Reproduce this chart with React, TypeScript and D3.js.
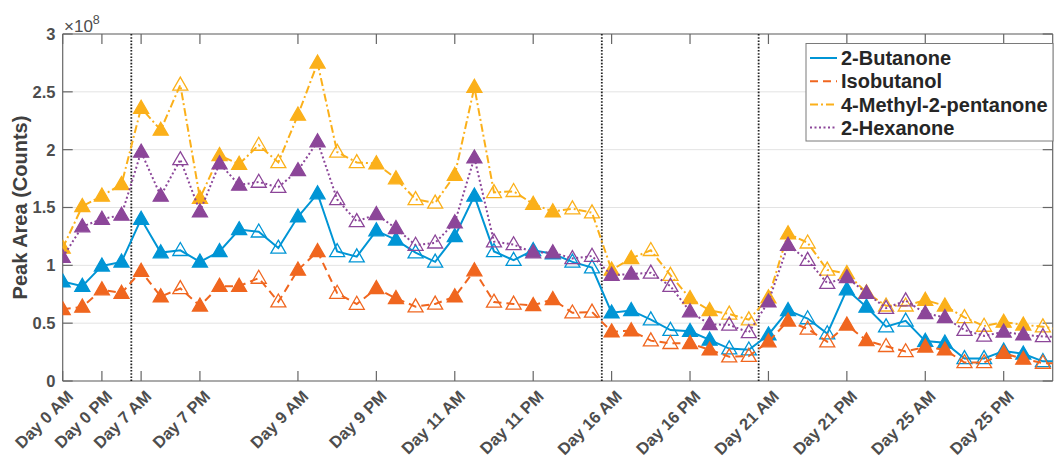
import React from "react";
import * as d3 from "d3";

const xTickIdx = [0, 2, 4, 7, 12, 16, 20, 24, 28, 32, 36, 40, 44, 48];
const xTickLabels = [
  "Day 0 AM", "Day 0 PM", "Day 7 AM", "Day 7 PM", "Day 9 AM", "Day 9 PM",
  "Day 11 AM", "Day 11 PM", "Day 16 AM", "Day 16 PM", "Day 21 AM", "Day 21 PM",
  "Day 25 AM", "Day 25 PM",
];
const yTicks = [0, 0.5, 1, 1.5, 2, 2.5, 3];
const dividers = [3.5, 27.5, 35.5];

// values in units of 1e8
const butanone = [
  0.86, 0.82, 0.995, 1.03, 1.40, 1.11, 1.13, 1.03, 1.12, 1.31,
  1.29, 1.15, 1.42, 1.62, 1.12, 1.075, 1.30, 1.22, 1.11, 1.03,
  1.25, 1.60, 1.12, 1.045, 1.13, 1.10, 1.03, 0.98, 0.59, 0.61,
  0.53, 0.44, 0.43, 0.355, 0.28, 0.27, 0.40, 0.61, 0.54, 0.41,
  0.79, 0.64, 0.47, 0.52, 0.345, 0.33, 0.195, 0.195, 0.26, 0.235,
  0.17, 0.17,
];
const isobutanol = [
  0.62, 0.64, 0.79, 0.76, 0.95, 0.73, 0.80, 0.65, 0.82, 0.82,
  0.89, 0.685, 0.96, 1.12, 0.76, 0.665, 0.80, 0.715, 0.643, 0.666,
  0.729, 0.954, 0.683, 0.666, 0.654, 0.706, 0.59, 0.597, 0.426, 0.435,
  0.349, 0.326, 0.325, 0.27, 0.21, 0.215, 0.34, 0.52, 0.45, 0.34,
  0.485, 0.35, 0.30, 0.255, 0.295, 0.27, 0.16, 0.16, 0.24, 0.19,
  0.155, 0.15,
];
const methylPentanone = [
  1.15, 1.51, 1.60, 1.70, 2.36, 2.17, 2.56, 1.58, 1.95, 1.875,
  2.04, 1.89, 2.30, 2.75, 1.98, 1.89, 1.88, 1.75, 1.57, 1.54,
  1.78, 2.54, 1.63, 1.64, 1.53, 1.465, 1.49, 1.455, 0.96, 1.06,
  1.13, 0.915, 0.715, 0.61, 0.58, 0.53, 0.72, 1.275, 1.195, 0.96,
  0.93, 0.765, 0.65, 0.65, 0.70, 0.65, 0.55, 0.475, 0.51, 0.485,
  0.47, 0.44,
];
const hexanone = [
  1.07, 1.335, 1.40, 1.435, 1.98, 1.60, 1.915, 1.465, 1.88, 1.695,
  1.72, 1.675, 1.82, 2.07, 1.57, 1.38, 1.44, 1.32, 1.175, 1.195,
  1.37, 1.93, 1.205, 1.18, 1.11, 1.11, 1.06, 1.08, 0.915, 0.925,
  0.935, 0.82, 0.60, 0.49, 0.485, 0.42, 0.685, 1.175, 1.045, 0.845,
  0.895, 0.76, 0.63, 0.695, 0.585, 0.55, 0.44, 0.39, 0.425, 0.40,
  0.385, 0.38,
];
// 1 = filled marker, 0 = open marker
const filled = [
  1, 1, 1, 1, 1, 1, 0, 1, 1, 1, 0, 0, 1, 1, 0, 0, 1, 1, 0, 0,
  1, 1, 0, 0, 1, 1, 0, 0, 1, 1, 0, 0, 1, 1, 0, 0, 1, 1, 0, 0,
  1, 1, 0, 0, 1, 1, 0, 0, 1, 1, 0, 0,
];

const seriesNames = ["2-Butanone", "Isobutanol", "4-Methyl-2-pentanone", "2-Hexanone"];
const seriesValues = [butanone, isobutanol, methylPentanone, hexanone];
const seriesColors = ["#0095d5", "#f0661f", "#fbb01a", "#8c4699"];
const seriesDash = ["", "8,5", "8,3,2,3", "2,2.5"];

const W = 1056, H = 458;
const L = 62.7, R = 1052.7, T = 34, B = 381;
const FONT = "'Liberation Sans', Arial, Helvetica, sans-serif";

export default function App() {
  const x = d3.scaleLinear().domain([0, 50.5]).range([L, R]);
  const y = d3.scaleLinear().domain([0, 3]).range([B, T]);
  const line = d3.line<number>().x((_, i) => x(i)).y((d) => y(d));
  const tri = (cx: number, cy: number) =>
    `M${cx},${cy - 7.8}L${cx + 7.5},${cy + 5.2}L${cx - 7.5},${cy + 5.2}Z`;

  return (
    <svg width={W} height={H} style={{ position: "absolute", left: 0, top: 0, background: "#fff" }}>
      <defs>
        <clipPath id="plotclip">
          <rect x={L} y={T} width={R - L} height={B - T} />
        </clipPath>
      </defs>
      {/* grid */}
      {yTicks.map((t) => (
        <line key={"g" + t} x1={L} x2={R} y1={y(t)} y2={y(t)} stroke="#e3e3e3" strokeWidth={1} />
      ))}
      {/* axes box */}
      <line x1={L} x2={R} y1={B} y2={B} stroke="#666" strokeWidth={1.2} />
      <line x1={L} x2={R} y1={T} y2={T} stroke="#666" strokeWidth={1.2} />
      <line x1={L} x2={L} y1={T} y2={B} stroke="#666" strokeWidth={1.2} />
      <line x1={R} x2={R} y1={T} y2={B} stroke="#666" strokeWidth={1.2} />
      {/* ticks */}
      {xTickIdx.map((i) => (
        <g key={"xt" + i}>
          <line x1={x(i)} x2={x(i)} y1={B} y2={B - 10} stroke="#666" strokeWidth={1.2} />
          <line x1={x(i)} x2={x(i)} y1={T} y2={T + 10} stroke="#666" strokeWidth={1.2} />
        </g>
      ))}
      {yTicks.map((t) => (
        <g key={"yt" + t}>
          <line x1={L} x2={L + 10} y1={y(t)} y2={y(t)} stroke="#666" strokeWidth={1.2} />
          <line x1={R} x2={R - 10} y1={y(t)} y2={y(t)} stroke="#666" strokeWidth={1.2} />
          <text x={55.5} y={y(t)} dy="0.36em" textAnchor="end" fontFamily={FONT} fontWeight="bold"
            fontSize={16.5} fill="#4d4d4d">{String(t)}</text>
        </g>
      ))}
      {xTickLabels.map((lab, k) => (
        <text key={"xl" + k} transform={`translate(${x(xTickIdx[k]) + 3},${389}) rotate(-45)`} dy="0.72em"
          textAnchor="end" fontFamily={FONT} fontWeight="bold" fontSize={16.5} fill="#4d4d4d">
          {lab}
        </text>
      ))}
      {/* exponent */}
      <text x={64} y={32} fontFamily={FONT} fontSize={17} fill="#4d4d4d">
        ×10<tspan dy={-8} fontSize={12.5}>8</tspan>
      </text>
      {/* y label */}
      <text transform={`translate(${27},${y(1.5) + 0}) rotate(-90)`} textAnchor="middle"
        fontFamily={FONT} fontWeight="bold" fontSize={20} fill="#404040">Peak Area (Counts)</text>
      {/* dividers */}
      {dividers.map((d) => (
        <line key={"d" + d} x1={x(d)} x2={x(d)} y1={T} y2={B} stroke="#222" strokeWidth={1.8}
          strokeDasharray="1.6,1.6" />
      ))}
      {/* series */}
      <g clipPath="url(#plotclip)">
        {seriesValues.map((vals, s) => (
          <g key={"s" + s}>
            <path d={line(vals) || ""} fill="none" stroke={seriesColors[s]} strokeWidth={2}
              strokeDasharray={seriesDash[s] || undefined} />
            {vals.map((v, i) =>
              x(i) <= R ? (
                <path key={i} d={tri(x(i), y(v))}
                  fill={filled[i] ? seriesColors[s] : "none"}
                  stroke={seriesColors[s]} strokeWidth={1.3} strokeLinejoin="miter" />
              ) : null
            )}
          </g>
        ))}
      </g>
      {/* legend */}
      <rect x={806} y={43.5} width={247} height={97.5} fill="#fff" stroke="#7a7a7a" strokeWidth={1} />
      {seriesNames.map((n, s) => {
        const ly = 58 + s * 23.2;
        return (
          <g key={"lg" + s}>
            <line x1={810} x2={837} y1={ly} y2={ly} stroke={seriesColors[s]} strokeWidth={2}
              strokeDasharray={seriesDash[s] || undefined} />
            <text x={841} y={ly} dy="0.36em" fontFamily={FONT} fontWeight="bold" fontSize={20}
              fill="#262626">{n}</text>
          </g>
        );
      })}
    </svg>
  );
}
